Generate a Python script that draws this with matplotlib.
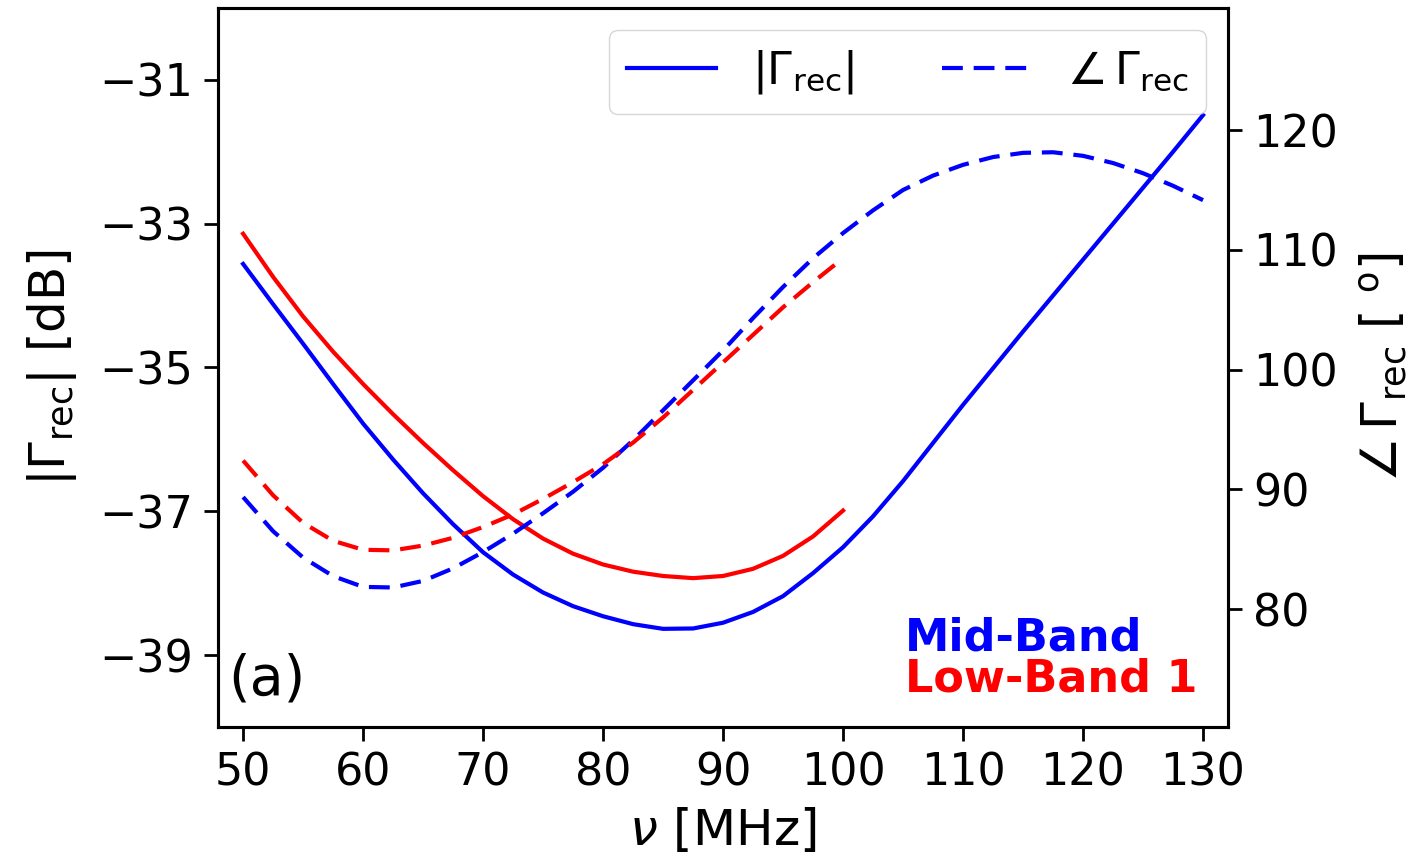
import numpy as np
import matplotlib
matplotlib.use("Agg")
import matplotlib.pyplot as plt
from matplotlib.lines import Line2D

# frequencies [MHz]
freq_mid = [50, 52.5, 55, 57.5, 60, 62.5, 65, 67.5, 70, 72.5, 75, 77.5, 80, 82.5, 85, 87.5,
            90, 92.5, 95, 97.5, 100, 102.5, 105, 107.5, 110, 112.5, 115, 117.5, 120,
            122.5, 125, 127.5, 130]
freq_low = [50, 52.5, 55, 57.5, 60, 62.5, 65, 67.5, 70, 72.5, 75, 77.5, 80, 82.5, 85, 87.5,
            90, 92.5, 95, 97.5, 100]

# |Gamma_rec| [dB]
mag_mid = [-33.56, -34.12, -34.67, -35.23, -35.78, -36.28, -36.75, -37.18, -37.57, -37.88,
           -38.13, -38.32, -38.46, -38.57, -38.635, -38.63, -38.55, -38.40, -38.18, -37.86,
           -37.50, -37.07, -36.58, -36.05, -35.52, -35.01, -34.50, -34.00, -33.50, -33.00,
           -32.50, -32.00, -31.49]
mag_low = [-33.14, -33.74, -34.29, -34.78, -35.23, -35.65, -36.05, -36.43, -36.79, -37.11,
           -37.38, -37.59, -37.74, -37.84, -37.90, -37.93, -37.90, -37.80, -37.62, -37.35,
           -36.99]

# angle Gamma_rec [deg]
phs_mid = [89.35, 86.5, 84.3, 82.75, 81.85, 81.8, 82.35, 83.4, 84.76, 86.3, 88.0, 89.8,
           91.8, 94.1, 96.6, 99.1, 101.6, 104.3, 106.9, 109.3, 111.4, 113.3, 115.0, 116.2,
           117.1, 117.75, 118.1, 118.15, 117.85, 117.25, 116.4, 115.35, 114.15]
phs_low = [92.4, 89.5, 87.2, 85.7, 84.95, 84.9, 85.3, 85.95, 86.85, 87.9, 89.2, 90.6, 92.1,
           93.9, 96.0, 98.3, 100.6, 102.9, 105.2, 107.3, 109.3]

FS = 32     # tick labels
LFS = 36    # axis labels

fig = plt.figure(figsize=(14.15, 8.67), dpi=100)
ax = fig.add_axes([0.154, 0.1615, 0.714, 0.8293])
ax2 = ax.twinx()

dash = (5, 2.6)
ax.plot(freq_mid, mag_mid, color="blue", lw=3)
ax.plot(freq_low, mag_low, color="red", lw=3)
ax2.plot(freq_mid, phs_mid, color="blue", lw=3, ls="--", dashes=dash)
ax2.plot(freq_low, phs_low, color="red", lw=3, ls="--", dashes=dash)

ax.set_xlim(47.9, 132.1)
ax.set_ylim(-40, -30)
ax2.set_ylim(70.15, 130.2)
ax.set_xticks(np.arange(50, 131, 10))
ax.set_yticks([-31, -33, -35, -37, -39])
ax2.set_yticks([80, 90, 100, 110, 120])

for a in (ax, ax2):
    a.tick_params(labelsize=FS, length=10, width=2, direction="out", pad=8)
    for s in a.spines.values():
        s.set_linewidth(2.2)

ax.set_xlabel(r"$\nu$ [MHz]", fontsize=LFS, labelpad=8)
ax.set_ylabel(r"$|\Gamma_{\rm rec}|$ [dB]", fontsize=LFS, labelpad=14)
ax2.set_ylabel(r"$\angle\,\Gamma_{\rm rec}$ [ $^{\rm o}$]", fontsize=LFS, labelpad=14)

ax.text(0.01, 0.028, "(a)", transform=ax.transAxes, fontsize=40, va="bottom")
ax.text(0.68, 0.107, "Mid-Band", transform=ax.transAxes, fontsize=32,
        color="blue", fontweight="bold", va="baseline")
ax.text(0.68, 0.049, "Low-Band 1", transform=ax.transAxes, fontsize=32,
        color="red", fontweight="bold", va="baseline")

handles = [Line2D([], [], color="blue", lw=3),
           Line2D([], [], color="blue", lw=3, ls="--", dashes=dash)]
ax2.legend(handles, [r"$|\Gamma_{\rm rec}|$", r"$\angle\,\Gamma_{\rm rec}$"],
           loc="upper right", ncol=2, fontsize=32)

fig.savefig("out.png", dpi=100)
